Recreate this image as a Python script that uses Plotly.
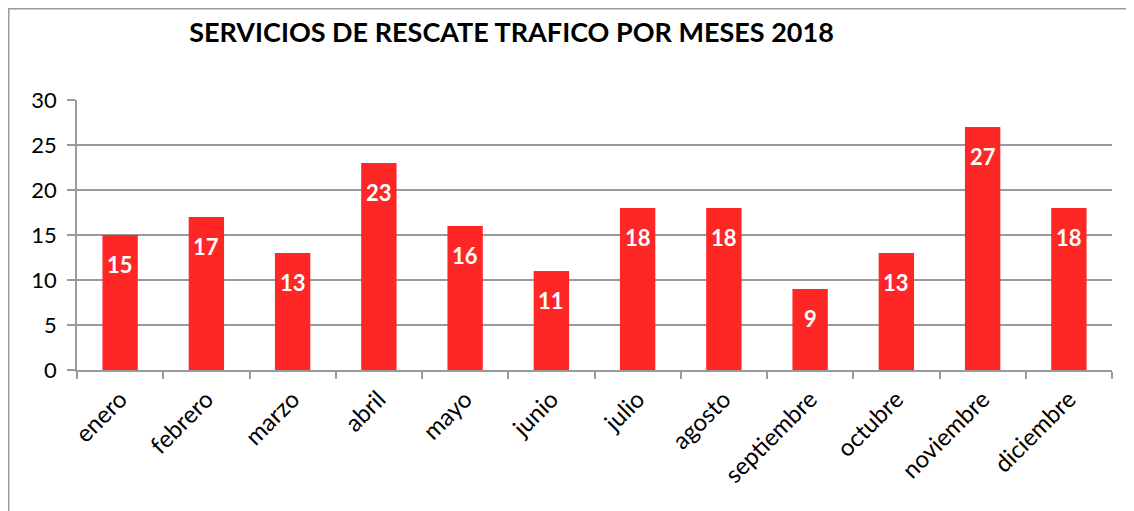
import plotly.graph_objects as go

months = ["enero", "febrero", "marzo", "abril", "mayo", "junio", "julio",
          "agosto", "septiembre", "octubre", "noviembre", "diciembre"]
values = [15, 17, 13, 23, 16, 11, 18, 18, 9, 13, 27, 18]
title = "SERVICIOS DE RESCATE TRAFICO POR MESES 2018"

FONT = "Lato, Carlito, Open Sans, sans-serif"
BAR = "#FF2626"
GRID = "#9a9a9a"

fig = go.Figure(go.Bar(
    x=months, y=values, marker=dict(color=BAR, line=dict(width=0)),
    width=0.41,
))

for m, v in zip(months, values):
    fig.add_annotation(x=m, y=v, yshift=-29, text=f"<b>{v}</b>", showarrow=False,
                       font=dict(family=FONT, size=22, color="white"))

# page places the figure at (8, 8); work in figure pixel coordinates
W, H = 1126, 503
L, R, T, B = 69, 22, 92, 141
pw, ph = W - L - R, H - T - B

def px(x):
    return (x - L) / pw

def py(y):
    return (H - B - y) / ph

border = dict(color=GRID, width=1.5)
fig.add_shape(type="line", xref="paper", yref="paper", x0=px(0.75), x1=px(0.75), y0=py(0), y1=py(H + 10), line=border)
fig.add_shape(type="line", xref="paper", yref="paper", x0=px(0), x1=px(W), y0=py(0.75), y1=py(0.75), line=border)

fig.update_layout(
    width=W, height=H,
    margin=dict(l=L, r=R, t=T, b=B),
    paper_bgcolor="white", plot_bgcolor="white",
    showlegend=False,
    title=dict(text=f"<b>{title}</b>", x=px(503.5), xanchor="center", xref="paper",
               y=1 - 25 / H, yanchor="middle",
               font=dict(family=FONT, size=27, color="black")),
    font=dict(family=FONT, color="black"),
    xaxis=dict(tickangle=-45, tickfont=dict(size=24), ticks="outside", tickson="boundaries",
               ticklen=7, tickcolor=GRID, tickwidth=1.5, showline=True, linecolor=GRID, linewidth=1.5,
               ticklabelstandoff=4, showgrid=False),
    yaxis=dict(range=[0, 30], dtick=5, tickfont=dict(size=22), ticks="outside", ticklen=8,
               tickcolor=GRID, tickwidth=1.5, showline=True, linecolor=GRID, linewidth=1.5,
               ticklabelstandoff=6,
               showgrid=True, gridcolor=GRID, gridwidth=1.5, zeroline=False),
)

fig.write_html("out.html")
